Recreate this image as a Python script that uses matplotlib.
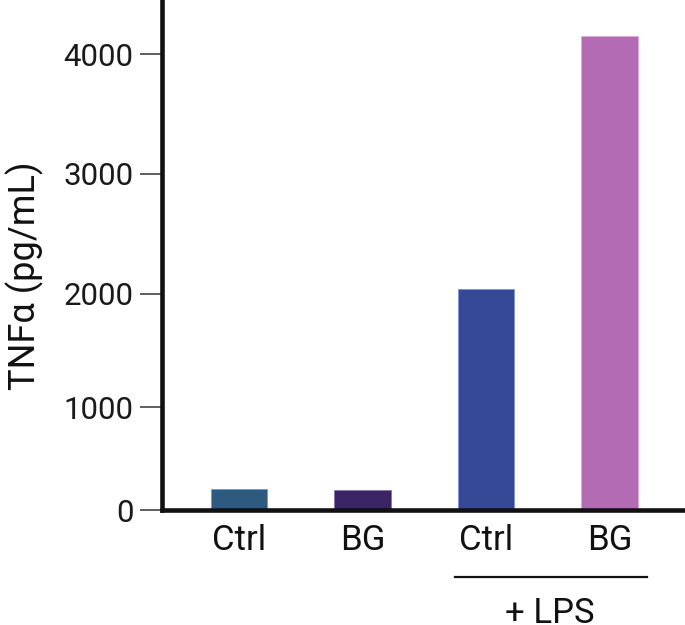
import matplotlib
matplotlib.use("Agg")
import matplotlib.pyplot as plt
import matplotlib.transforms as mtransforms
import numpy as np

plt.rcParams['font.family'] = ['Roboto', 'DejaVu Sans']

# data
groups = ["Ctrl", "BG", "Ctrl", "BG"]
tnfa = [206, 197, 2041, 4158]
bar_colors = ["#2f5a80", "#3b2463", "#354896", "#b36cb3"]
edge_colors = ["#6f9cc4", "#8a72b0", "#7f93d6", "#dcaadc"]
y_ticks = [0, 1000, 2000, 3000, 4000]
bracket_label = "+ LPS"

# the reference axis is not quite linear: tick spacing grows upward
knot_vals = np.array([-1000, 0, 1000, 2000, 3000, 4000, 6000])
knot_pos = np.array([-103.3, 0, 103.3, 217.0, 337.6, 457.6, 697.6])


def forward(v):
    return np.interp(v, knot_vals, knot_pos)


def inverse(p):
    return np.interp(p, knot_pos, knot_vals)


fig = plt.figure(figsize=(6.85, 6.25), dpi=100)
ax = fig.add_axes([161.5 / 685, 115 / 625, 521.5 / 685, 510 / 625])
ax.set_yscale("function", functions=(forward, inverse))

x = np.arange(len(groups))
ax.bar(x, tnfa, width=0.455, color=bar_colors, edgecolor=edge_colors,
       linewidth=0.6, zorder=2)

ax.set_xlim(-0.628, 3.595)
ax.set_ylim(0, 4456)
ax.set_yticks(y_ticks)
ax.set_yticklabels([str(t) for t in y_ticks])
ax.minorticks_off()
ax.set_xticks(x)
ax.set_xticklabels(groups)

for side in ["top", "right"]:
    ax.spines[side].set_visible(False)
for side in ["left", "bottom"]:
    ax.spines[side].set_linewidth(3.3)
    ax.spines[side].set_color("#111111")
    ax.spines[side].set_capstyle("projecting")

ax.tick_params(axis="y", length=16, width=1.1, color="#333333", pad=4,
               labelsize=22.5, labelcolor="#1a1a1a")
ax.tick_params(axis="x", length=0, pad=10, labelsize=25, labelcolor="#111111")

ax.set_ylabel("TNFα (pg/mL)", fontsize=26, color="#111111")
ax.yaxis.set_label_coords(-0.226, 0.46)

# bracket under the LPS-treated bars
trans = mtransforms.blended_transform_factory(ax.transData, ax.transAxes)
ax.plot([1.75, 3.3], [-0.131, -0.131], transform=trans, color="#111111",
        lw=1.6, clip_on=False)
ax.text(2.52, -0.2216, bracket_label, transform=trans, ha="center",
        va="baseline", fontsize=25, color="#111111")

fig.savefig("out.png", dpi=100)
